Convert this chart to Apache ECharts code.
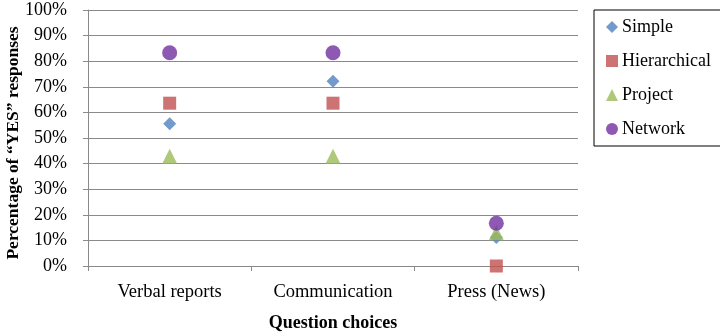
<!DOCTYPE html>
<html>
<head>
<meta charset="utf-8">
<script src="https://cdn.jsdelivr.net/npm/echarts@6/dist/echarts.min.js"></script>
<style>
  html, body { margin: 0; padding: 0; background: #fff; }
  #chart { width: 720px; height: 336px; }
</style>
</head>
<body>
<div id="chart"></div>
<script>
// Share of "YES" answers per question, by organisational structure
const categories = ['Verbal reports', 'Communication', 'Press (News)'];
const simple = [55.6, 72.2, 11.1];
const hierarchical = [63.6, 63.6, 0];
const project = [42.9, 42.9, 13];
const network = [83.3, 83.3, 16.7];

const FONT = '"Liberation Serif", "DejaVu Serif", serif';
const GRID = '#8a8a8a';

function scatterSeries(name, data, symbol, size, color) {
  return {
    name: name,
    type: 'scatter',
    data: data,
    symbol: symbol,
    symbolSize: size,
    itemStyle: { color: color },
    emphasis: { disabled: true }
  };
}

const chart = echarts.init(document.getElementById('chart'));
chart.setOption({
  animation: false,
  textStyle: { fontFamily: FONT },
  grid: { left: 88, right: 142, top: 10, bottom: 70, outerBoundsMode: 'none' },
  legend: {
    orient: 'vertical',
    left: 594,
    top: 10,
    padding: [8, 50, 8, 12],
    itemGap: 16,
    itemWidth: 12,
    itemHeight: 12,
    borderColor: '#000',
    borderWidth: 1,
    textStyle: { fontFamily: FONT, fontSize: 18, color: '#000', padding: [0, 0, 0, -1] },
    data: [
      { name: 'Simple', icon: 'diamond' },
      { name: 'Hierarchical', icon: 'rect' },
      { name: 'Project', icon: 'triangle' },
      { name: 'Network', icon: 'circle' }
    ]
  },
  xAxis: {
    type: 'category',
    data: categories,
    boundaryGap: true,
    axisLine: { lineStyle: { color: GRID } },
    axisTick: { show: true, length: 5, lineStyle: { color: GRID } },
    axisLabel: { fontFamily: FONT, fontSize: 18.5, color: '#000', margin: 17 },
    name: 'Question choices',
    nameLocation: 'middle',
    nameGap: 48,
    nameMoveOverlap: false,
    nameTextStyle: { fontFamily: FONT, fontSize: 18, fontWeight: 'bold', color: '#000' }
  },
  yAxis: {
    type: 'value',
    min: 0,
    max: 100,
    interval: 10,
    axisLine: { show: true, lineStyle: { color: GRID } },
    axisTick: { show: true, length: 5, lineStyle: { color: GRID } },
    splitLine: { lineStyle: { color: GRID } },
    axisLabel: { fontFamily: FONT, fontSize: 18, color: '#000', margin: 21, formatter: '{value}%' },
    name: 'Percentage of \u201CYES\u201D responses',
    nameLocation: 'middle',
    nameGap: 66,
    nameMoveOverlap: false,
    nameTextStyle: { fontFamily: FONT, fontSize: 17.5, fontWeight: 'bold', color: '#000', padding: [0, 10, 0, 0] }
  },
  series: [
    scatterSeries('Simple', simple, 'diamond', 13, '#4F81BD'),
    scatterSeries('Hierarchical', hierarchical, 'rect', 13, '#C0504D'),
    scatterSeries('Project', project, 'triangle', 15, '#9BBB59'),
    scatterSeries('Network', network, 'circle', 15, '#7030A0')
  ]
});
</script>
</body>
</html>
